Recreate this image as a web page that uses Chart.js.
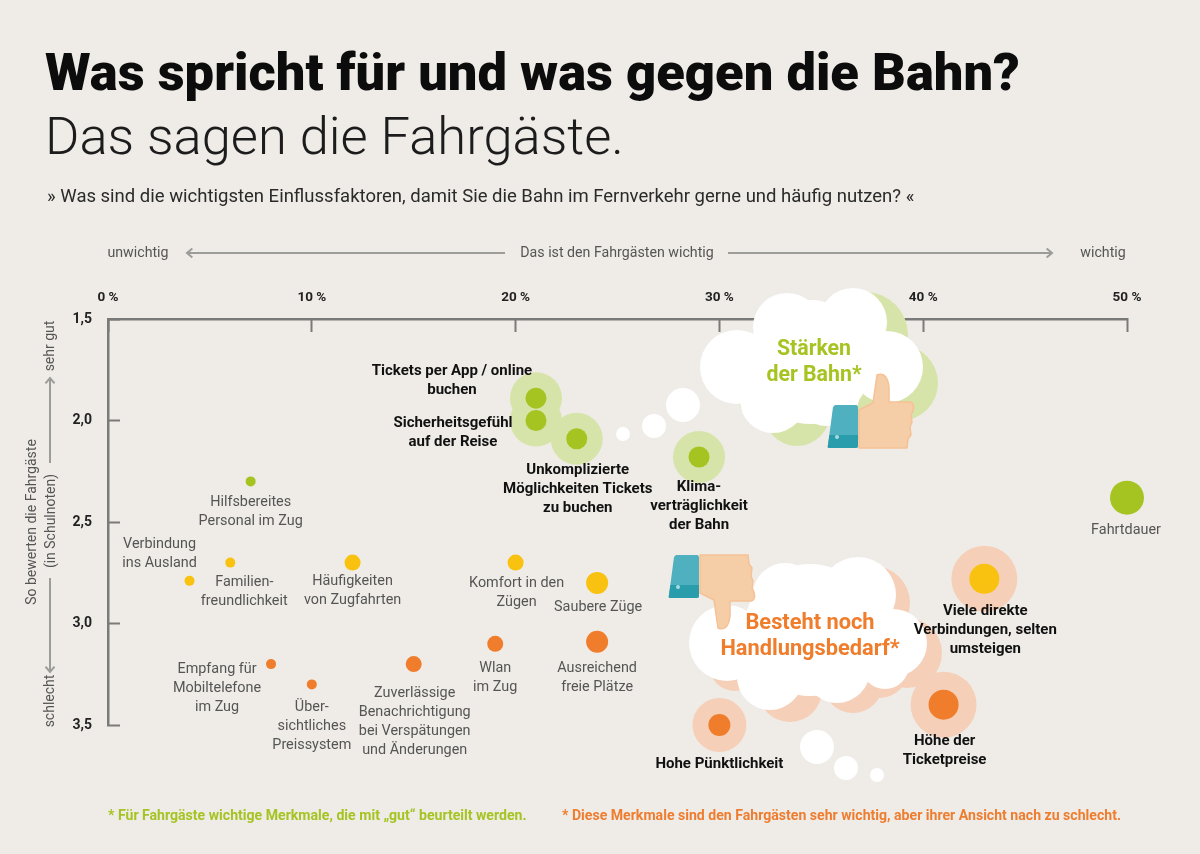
<!DOCTYPE html>
<html lang="de">
<head>
<meta charset="utf-8">
<title>Was spricht für und was gegen die Bahn?</title>
<script src="https://cdn.jsdelivr.net/npm/chart.js@4"></script>
<style>
  html, body { margin: 0; padding: 0; background: #efece8; }
  body { position: relative; width: 1200px; height: 854px; overflow: hidden; font-family: Roboto, sans-serif; }
  canvas { position: absolute; left: 0; top: 0; }
  .t { position: absolute; white-space: nowrap; }
  #head { left: 45px; top: 40px; font-size: 52.5px; font-weight: 900; color: #0c0c0c; line-height: 64px; }
  #sub { left: 45px; top: 104px; font-size: 52.5px; font-weight: 300; color: #1c1c1c; line-height: 64px; }
  #ask { left: 47px; top: 185px; font-size: 18.5px; color: #2a2a2a; line-height: 22px; }
  .foot { top: 806px; font-size: 14.1px; font-weight: 700; line-height: 18px; }
  #foot1 { left: 108px; color: #a5c422; }
  #foot2 { left: 562px; color: #ee7d2f; }
</style>
</head>
<body>
<canvas id="chart" width="1200" height="854"></canvas>
<div class="t" id="head">Was spricht für und was gegen die Bahn?</div>
<div class="t" id="sub">Das sagen die Fahrgäste.</div>
<div class="t" id="ask">» Was sind die wichtigsten Einflussfaktoren, damit Sie die Bahn im Fernverkehr gerne und häufig nutzen? «</div>
<div class="t foot" id="foot1">* Für Fahrgäste wichtige Merkmale, die mit „gut“ beurteilt werden.</div>
<div class="t foot" id="foot2">* Diese Merkmale sind den Fahrgästen sehr wichtig, aber ihrer Ansicht nach zu schlecht.</div>

<script>
// Daten
const factors = [
  ['Tickets per App / online', 'buchen'],
  ['Sicherheitsgefühl', 'auf der Reise'],
  ['Unkomplizierte', 'Möglichkeiten Tickets', 'zu buchen'],
  ['Klima-', 'verträglichkeit', 'der Bahn'],
  ['Fahrtdauer'],
  ['Hilfsbereites', 'Personal im Zug'],
  ['Verbindung', 'ins Ausland'],
  ['Familien-', 'freundlichkeit'],
  ['Häufigkeiten', 'von Zugfahrten'],
  ['Komfort in den', 'Zügen'],
  ['Saubere Züge'],
  ['Ausreichend', 'freie Plätze'],
  ['Wlan', 'im Zug'],
  ['Zuverlässige', 'Benachrichtigung', 'bei Verspätungen', 'und Änderungen'],
  ['Empfang für', 'Mobiltelefone', 'im Zug'],
  ['Über-', 'sichtliches', 'Preissystem'],
  ['Hohe Pünktlichkeit'],
  ['Höhe der', 'Ticketpreise'],
  ['Viele direkte', 'Verbindungen, selten', 'umsteigen'],
];
const importance = [21, 21, 23, 29, 50, 7, 4, 6, 12, 20, 24, 24, 19, 15, 8, 10, 30, 41, 43];
const grade = [1.89, 2.0, 2.09, 2.18, 2.38, 2.3, 2.79, 2.7, 2.7, 2.7, 2.8, 3.09, 3.1, 3.2, 3.2, 3.3, 3.5, 3.4, 2.78];
const xTickLabels = ['0 %', '10 %', '20 %', '30 %', '40 %', '50 %'];
const yTickValues = [1.5, 2, 2.5, 3, 3.5];
const yTickLabels = ['1,5', '2,0', '2,5', '3,0', '3,5'];

const GREEN = '#a5c422', ORANGE = '#ef7d2c', YELLOW = '#f9c210';
const PALE_GREEN = '#d6e3a9', PALE_ORANGE = '#f5cfb8';

// Darstellung je Punkt
const dotColors = [GREEN, GREEN, GREEN, GREEN, GREEN, GREEN, YELLOW, YELLOW, YELLOW, YELLOW, YELLOW,
  ORANGE, ORANGE, ORANGE, ORANGE, ORANGE, ORANGE, ORANGE, YELLOW];
const dotSizes = [10.5, 10.5, 10.5, 10.5, 17, 5, 5, 5, 8, 8, 11, 11, 8, 8, 5, 5, 11, 15, 15];
const haloColors = [PALE_GREEN, PALE_GREEN, PALE_GREEN, PALE_GREEN, null, null, null, null, null, null, null,
  null, null, null, null, null, PALE_ORANGE, PALE_ORANGE, PALE_ORANGE];
const haloSizes = [26, 26, 26, 26, 0, 0, 0, 0, 0, 0, 0, 0, 0, 0, 0, 0, 27, 33, 33];
const boldLabel = [1, 1, 1, 1, 0, 0, 0, 0, 0, 0, 0, 0, 0, 0, 0, 0, 1, 1, 1];
// Versatz der Beschriftung zum Punkt (x, y der ersten Zeile)
const labelShift = [
  [-84, -27], [-83, 3], [1, 31], [0, 30], [-1, 33], [0, 21], [-30, -36], [14, 20], [0, 19], [1, 21],
  [1, 25], [0, 27], [0, 25], [1, 29], [-54, 5], [0, 23], [0, 39], [1, 37], [1, 32],
];

// Wolken als Kreise
const cloudGood = {
  back: [[900, 383, 38], [865, 335, 43], [797, 413, 33], [770, 395, 32], [860, 410, 30]],
  front: [[737, 367, 37], [787, 327, 34], [853, 322, 34], [887, 367, 36], [773, 400, 33], [827, 393, 33], [810, 362, 62]],
};
const cloudBad = {
  back: [[873, 603, 37], [907, 653, 35], [790, 690, 32], [853, 683, 30], [735, 665, 26], [880, 670, 28]],
  front: [[727, 643, 38], [785, 595, 32], [858, 595, 38], [893, 643, 34], [770, 677, 33], [837, 670, 33], [885, 665, 24], [810, 630, 66]],
};
const bubbleDots = [[623, 434, 7], [654, 426, 12], [683, 405, 17], [817, 747, 17], [846, 768, 12], [877, 775, 7]];

function circles(ctx, list, color) {
  ctx.fillStyle = color;
  list.forEach(([x, y, r]) => {
    ctx.beginPath();
    ctx.arc(x, y, r, 0, Math.PI * 2);
    ctx.fill();
  });
}

function thumb(ctx, x, y, down) {
  // Hand
  ctx.save();
  ctx.translate(x, down ? y + 43 : y);
  ctx.scale(1, down ? -1 : 1);
  ctx.fillStyle = '#f5cea8';
  ctx.strokeStyle = '#f5c195';
  ctx.lineWidth = 1.5;
  ctx.lineJoin = 'round';
  ctx.beginPath();
  ctx.moveTo(32, 5);
  ctx.lineTo(46, -2);
  ctx.lineTo(50, -30);
  ctx.quadraticCurveTo(60, -34, 62, -18);
  ctx.lineTo(62, -3);
  ctx.lineTo(83, -3);
  ctx.quadraticCurveTo(88, -2, 86, 6);
  ctx.lineTo(84, 10);
  ctx.lineTo(85, 17);
  ctx.lineTo(83, 22);
  ctx.lineTo(84, 30);
  ctx.lineTo(81, 34);
  ctx.lineTo(80, 43);
  ctx.lineTo(32, 43);
  ctx.closePath();
  ctx.fill();
  ctx.stroke();
  ctx.restore();

  // Manschette
  ctx.save();
  ctx.translate(x, y);
  ctx.beginPath();
  ctx.moveTo(8, 0);
  ctx.lineTo(29, 0);
  ctx.quadraticCurveTo(31, 0, 31, 3);
  ctx.lineTo(31, 41);
  ctx.quadraticCurveTo(31, 43, 29, 43);
  ctx.lineTo(2, 43);
  ctx.quadraticCurveTo(0, 43, 1, 40);
  ctx.lineTo(6, 2);
  ctx.closePath();
  ctx.fillStyle = '#4fb1bf';
  ctx.fill();
  ctx.clip();
  ctx.fillStyle = '#2a9dad';
  ctx.fillRect(0, 30, 32, 14);
  ctx.fillStyle = '#a6dde3';
  ctx.beginPath();
  ctx.arc(10, 32, 2, 0, Math.PI * 2);
  ctx.fill();
  ctx.restore();
}

function arrow(ctx, x1, y1, x2, y2) {
  const a = Math.atan2(y2 - y1, x2 - x1);
  ctx.beginPath();
  ctx.moveTo(x1, y1);
  ctx.lineTo(x2, y2);
  ctx.moveTo(x2 - 7 * Math.cos(a - 0.7), y2 - 7 * Math.sin(a - 0.7));
  ctx.lineTo(x2, y2);
  ctx.lineTo(x2 - 7 * Math.cos(a + 0.7), y2 - 7 * Math.sin(a + 0.7));
  ctx.stroke();
}

function rotatedText(ctx, text, x, y) {
  ctx.save();
  ctx.translate(x, y);
  ctx.rotate(-Math.PI / 2);
  ctx.fillText(text, 0, 0);
  ctx.restore();
}

const decorations = {
  id: 'decorations',
  beforeDatasetsDraw(chart) {
    const ctx = chart.ctx;
    ctx.save();
    ctx.textBaseline = 'middle';
    ctx.textAlign = 'center';
    ctx.fillStyle = '#555';
    ctx.strokeStyle = '#9c9c98';
    ctx.lineWidth = 2;
    ctx.font = '14.2px Roboto';
    ctx.fillText('unwichtig', 138, 253);
    ctx.fillText('Das ist den Fahrgästen wichtig', 617, 253);
    ctx.fillText('wichtig', 1103, 253);
    arrow(ctx, 505, 253, 187, 253);
    arrow(ctx, 728, 253, 1052, 253);

    ctx.font = '14px Roboto';
    rotatedText(ctx, 'So bewerten die Fahrgäste', 32, 522);
    rotatedText(ctx, '(in Schulnoten)', 51, 521);
    rotatedText(ctx, 'sehr gut', 50, 346);
    rotatedText(ctx, 'schlecht', 50, 701);
    arrow(ctx, 50, 463, 50, 378);
    arrow(ctx, 50, 578, 50, 672);
    ctx.restore();
  },
  afterDatasetsDraw(chart) {
    const ctx = chart.ctx;
    const xs = chart.scales.x, ys = chart.scales.y;
    ctx.save();

    // Wolken über den Achsen
    circles(ctx, cloudGood.back, PALE_GREEN);
    circles(ctx, cloudBad.back, PALE_ORANGE);
    circles(ctx, cloudGood.front, '#fff');
    circles(ctx, cloudBad.front, '#fff');
    circles(ctx, bubbleDots, '#fff');
    thumb(ctx, 827, 405, false);
    thumb(ctx, 668, 555, true);

    ctx.textAlign = 'center';
    ctx.textBaseline = 'middle';
    ctx.font = '700 21.3px Roboto';
    ctx.fillStyle = GREEN;
    ctx.fillText('Stärken', 814, 350);
    ctx.fillText('der Bahn*', 814, 376);
    ctx.font = '700 21.8px Roboto';
    ctx.fillStyle = ORANGE;
    ctx.fillText('Besteht noch', 810, 624);
    ctx.fillText('Handlungsbedarf*', 810, 650);

    // Beschriftung der Punkte
    factors.forEach((lines, i) => {
      const px = xs.getPixelForValue(importance[i]) + labelShift[i][0];
      const py = ys.getPixelForValue(grade[i]) + labelShift[i][1];
      ctx.font = boldLabel[i] ? '700 15px Roboto' : '14.4px Roboto';
      ctx.fillStyle = boldLabel[i] ? '#111' : '#555';
      lines.forEach((line, n) => ctx.fillText(line, px, py + n * 19));
    });
    ctx.restore();
  },
};

const points = importance.map((x, i) => ({ x, y: grade[i] }));

new Chart(document.getElementById('chart'), {
  type: 'scatter',
  data: {
    datasets: [
      { data: points, pointRadius: dotSizes, pointBackgroundColor: dotColors, pointBorderWidth: 0, clip: false },
      { data: points, pointRadius: haloSizes, pointBackgroundColor: haloColors, pointBorderWidth: 0, clip: false },
    ],
  },
  options: {
    responsive: false,
    animation: false,
    events: [],
    layout: { padding: { left: 58, top: 269, right: 73, bottom: 129 } },
    plugins: { legend: { display: false }, tooltip: { enabled: false } },
    scales: {
      x: {
        type: 'linear',
        position: 'top',
        min: 0,
        max: 50,
        afterFit: (scale) => { scale.height = 50; },
        border: { color: '#7a7a78', width: 2.5 },
        grid: { drawOnChartArea: false, tickLength: -13, tickColor: '#7a7a78', tickWidth: 2 },
        ticks: {
          stepSize: 10,
          maxRotation: 0,
          padding: 26,
          color: '#222',
          font: { family: 'Roboto', size: 13.5, weight: '700' },
          callback: (v, i) => xTickLabels[i],
        },
      },
      y: {
        type: 'linear',
        position: 'left',
        reverse: true,
        min: 1.5,
        max: 3.5,
        afterFit: (scale) => { scale.width = 50; },
        border: { color: '#7a7a78', width: 2.5 },
        grid: { drawOnChartArea: false, tickLength: -12, tickColor: '#7a7a78', tickWidth: 2 },
        ticks: {
          stepSize: 0.5,
          padding: 28,
          color: '#222',
          font: { family: 'Roboto', size: 14, weight: '700' },
          callback: (v) => yTickLabels[yTickValues.indexOf(v)],
        },
      },
    },
  },
  plugins: [decorations],
});
</script>
</body>
</html>
